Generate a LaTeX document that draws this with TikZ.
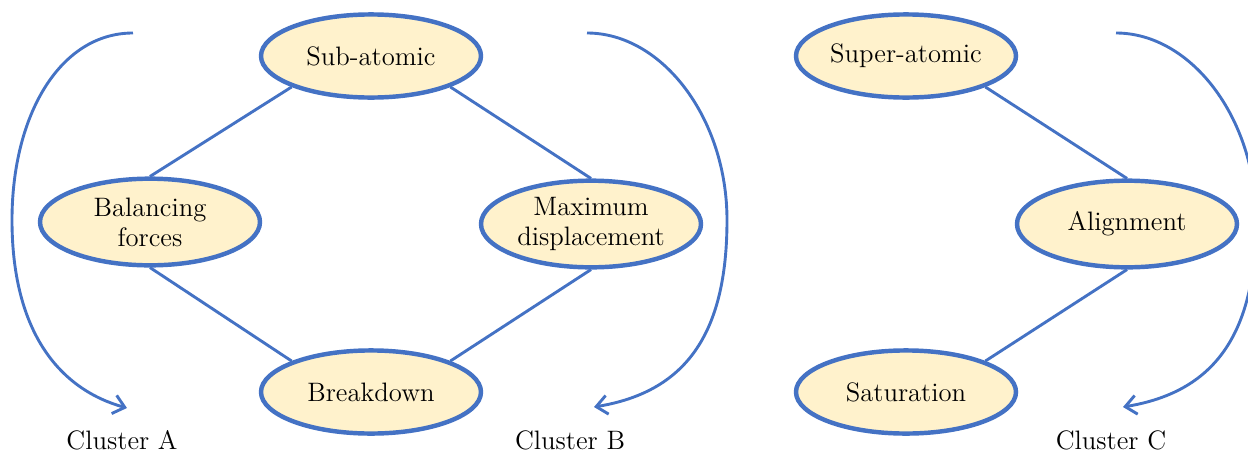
\documentclass[tikz,border=0pt]{standalone}
\usetikzlibrary{shapes.geometric,arrows.meta}
\definecolor{edgeblue}{HTML}{4472C4}
\definecolor{nodefill}{HTML}{FFF2CC}
\begin{document}
\begin{tikzpicture}[x=0.45pt,y=-0.45pt,
  concept/.style={ellipse,draw=edgeblue,fill=nodefill,line width=2pt,inner sep=0pt,
    minimum width=99pt,minimum height=37.4pt,align=center,
    font=\fontsize{12}{13.4}\selectfont},
  tall/.style={minimum height=39pt},
  link/.style={draw=edgeblue,line width=1.3pt},
  sweep/.style={draw=edgeblue,line width=1.3pt,-{Straight Barb[length=5pt,width=8.5pt]}},
  caption/.style={anchor=base,font=\fontsize{12}{14}\selectfont}]
\useasboundingbox (0,0) rectangle (1248,452);
\clip (0,0) rectangle (1248,452);

% concept ellipses
\node[concept] (sub) at (371,56) {Sub-atomic};
\node[concept,tall] (bal) at (150,222) {Balancing\\forces};
\node[concept,tall] (max) at (591,224) {Maximum\\displacement};
\node[concept] (brk) at (371,392) {Breakdown};
\node[concept] (sup) at (906,56) {Super-atomic};
\node[concept,tall] (ali) at (1127,224) {Alignment};
\node[concept] (sat) at (906,392) {Saturation};

% links between concepts
\draw[link] (sub.south west) -- (bal.north);
\draw[link] (sub.south east) -- (max.north);
\draw[link] (bal.south) -- (brk.north west);
\draw[link] (max.south) -- (brk.north east);
\draw[link] (sup.south east) -- (ali.north);
\draw[link] (ali.south) -- (sat.north east);

% cluster sweeps
\coordinate (aS) at (133,33);
\coordinate (aE) at (127,408);
\coordinate (bS) at (587,33);
\coordinate (bE) at (594,407);
\coordinate (cS) at (1116,33);
\coordinate (cE) at (1123,407);
\draw[sweep] (aS) .. controls (60,33) and (12,115) .. (12,220)
  .. controls (12,335) and (62,390) .. (aE);
\draw[sweep] (bS) .. controls (662,33) and (727,118) .. (727,220)
  .. controls (727,335) and (685,392) .. (bE);
\draw[sweep] (cS) .. controls (1191,33) and (1256,118) .. (1256,220)
  .. controls (1256,335) and (1214,392) .. (cE);

% cluster captions
\node[caption] (capA) at (122,449) {Cluster A};
\node[caption] (capB) at (570,449) {Cluster B};
\node[caption] (capC) at (1111,449) {Cluster C};
\end{tikzpicture}
\end{document}
